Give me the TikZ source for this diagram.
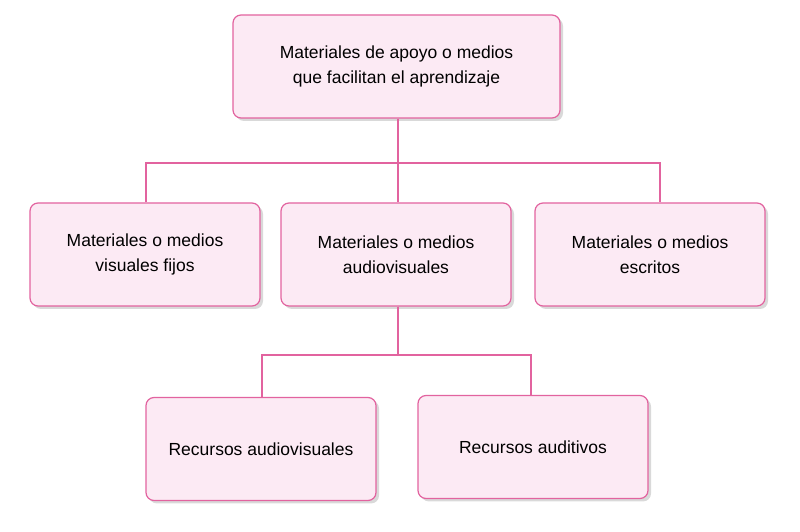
\documentclass[tikz,border=0pt]{standalone}
\usepackage{fontspec}
\setmainfont{Liberation Sans}
\usetikzlibrary{shadows}
\definecolor{boxfill}{HTML}{FCEAF4}
\definecolor{boxline}{HTML}{E2639F}
\begin{document}
\begin{tikzpicture}[x=1pt,y=1pt,
  box/.style={draw=boxline,line width=1.2pt,fill=boxfill,rounded corners=8pt,
    minimum width=230pt,minimum height=103pt,align=center,font=\fontsize{17.5}{25}\selectfont,
    drop shadow={shadow xshift=3pt,shadow yshift=-3pt,opacity=0.3}},
  conn/.style={draw=boxline,line width=1.2pt}]
\useasboundingbox (0,0) rectangle (800,532);
\node[box,minimum width=327pt] (top) at (396.5,465.5) {Materiales de apoyo o medios\\que facilitan el aprendizaje};
\node[box] (l) at (145,277.5) {Materiales o medios\\visuales fijos};
\node[box] (m) at (396,277.5) {Materiales o medios\\audiovisuales};
\node[box] (r) at (650,277.5) {Materiales o medios\\escritos};
\node[box] (a) at (261,83) {Recursos audiovisuales};
\node[box] (b) at (533,85) {Recursos auditivos};
\coordinate (j1) at (398,369);
\coordinate (j2) at (398,177);
\draw[conn] (top.south -| j1) -- (j1);
\draw[conn] (l.north -| 146,0) |- (j1) -| (m.north -| j1);
\draw[conn] (j1) -| (r.north -| 660,0);
\draw[conn] (m.south -| j2) -- (j2);
\draw[conn] (a.north -| 262,0) |- (j2) -| (b.north -| 531,0);
\end{tikzpicture}
\end{document}
